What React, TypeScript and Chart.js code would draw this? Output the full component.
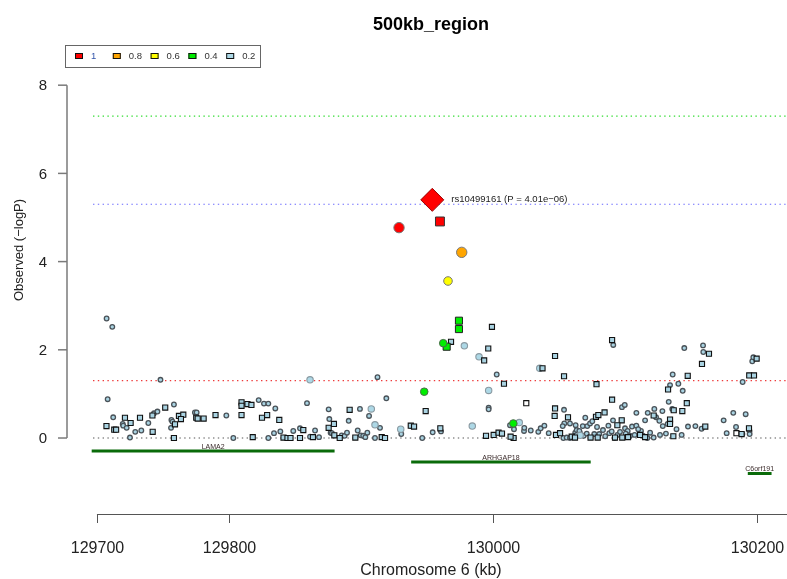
import React, { useEffect, useRef } from 'react';
import { Chart, registerables } from 'chart.js';
Chart.register(...registerables);

const chartTitle = '500kb_region';
const xAxisTitle = 'Chromosome 6 (kb)';
const yAxisTitle = 'Observed (−logP)';
const xTicks = [129700, 129800, 130000, 130200];
const yTicks = [0, 2, 4, 6, 8];

const legendLabels = ['1', '0.8', '0.6', '0.4', '0.2'];
const legendColors = ['#ff0000', '#ffa500', '#ffff00', '#00ee00', '#add8e6'];

const thresholds = [7.3, 5.3, 1.3, 0];
const thresholdColors = ['#33dd33', '#6a6aff', '#ee3b3b', '#555555'];

const geneNames = ['LAMA2', 'ARHGAP18', 'C6orf191'];
const geneStarts = [129696, 129938, 130193];
const geneEnds = [129880, 130074, 130211];
const geneRows = [-0.295, -0.544, -0.805];

const leadSnp: [number, number][] = [[129954, 5.4]];
const leadLabel = 'rs10499161 (P = 4.01e−06)';
const redCircles: [number, number][] = [[129928.8, 4.77]];
const redSquares: [number, number][] = [[129959.8, 4.91]];
const orangeCircles: [number, number][] = [[129976.3, 4.21]];
const yellowCircles: [number, number][] = [[129965.9, 3.56]];
const greenCircles: [number, number][] = [[129962.3, 2.15], [129947.9, 1.05], [130015.4, 0.33]];
const greenSquares: [number, number][] = [[129974.2, 2.66], [129974.2, 2.47], [129964.9, 2.07]];

const blueCircles: [number, number][] = [
  [129707.3, 2.71], [129711.6, 2.52], [129748.1, 1.32], [129708.1, 0.88], [129712.3, 0.47],
  [129719.5, 0.32], [129719.9, 0.28], [129722.5, 0.23], [129725, 0.01], [129729, 0.14],
  [129733.6, 0.17], [129738.9, 0.34], [129743.2, 0.56], [129745.8, 0.6], [129758.3, 0.76],
  [129756.4, 0.41], [129757.2, 0.37], [129756.1, 0.23], [129774.2, 0.58], [129775.5, 0.58],
  [129798, 0.51], [129803.3, 0.0], [129822.5, 0.86], [129826.5, 0.78], [129829.8, 0.78],
  [129829.8, 0.0], [129835.1, 0.67], [129834.1, 0.11], [129838.9, 0.15], [129848.7, 0.16],
  [129853.8, 0.22], [129859.1, 0.79], [129865.2, 0.17], [129868.2, 0.02], [129861.4, 0.03],
  [129875.5, 0.65], [129876, 0.43], [129877, 0.12], [129878, 0.11], [129885.4, 0.06],
  [129887.6, 0.05], [129889.4, 0.12], [129890.7, 0.39], [129897.5, 0.17], [129899.2, 0.66],
  [129899.8, 0.06], [129901.7, 0.05], [129903.3, 0.02], [129904.8, 0.12], [129906.1, 0.5],
  [129912.5, 1.38], [129919.2, 0.9], [129914.4, 0.23], [129910.6, 0.0], [129930.5, 0.09],
  [129937.9, 0.27], [129946.4, 0.0], [129954.3, 0.13], [129960.6, 0.15], [130002.8, 1.44],
  [129996.7, 0.69], [129996.7, 0.65], [130012.9, 0.29], [130015.9, 0.2], [130023.5, 0.16],
  [130023.7, 0.23], [130028.6, 0.17], [130034.3, 0.14], [130036.1, 0.22], [130038.9, 0.28],
  [130042.2, 0.11], [130053.8, 0.64], [130054, 0.33], [130052.8, 0.27], [130058.3, 0.33],
  [130062.6, 0.29], [130062.3, 0.12], [130063.4, 0.18], [130065.9, 0.11], [130053.3, 0.0],
  [130055.8, 0.01], [130058.3, 0.0], [130063.4, 0.07], [130065.4, 0.16], [130068, 0.27],
  [130069.9, 0.46], [130071.4, 0.27], [130073.5, 0.33], [130075.2, 0.38], [130068.7, 0.05],
  [130076.7, 0.09], [130080.5, 0.09], [130087.4, 0.28], [130088.1, 0.11], [130089.9, 0.15],
  [130090.9, 0.4], [130091.1, 2.11], [130092.2, 0.0], [130094.2, 0.07], [130097.7, 0.7],
  [130099.8, 0.75], [130100, 0.22], [130102, 0.16], [130105.3, 0.26], [130108.6, 0.28],
  [130108.6, 0.57], [130103.8, 0.05], [130107.3, 0.07], [130115.2, 0.4], [130117.2, 0.57],
  [130122.2, 0.66], [130123.5, 0.47], [130126, 0.39], [130128.3, 0.61], [130128.6, 0.27],
  [130132.3, 0.32], [130136.1, 1.44], [130135.8, 0.66], [130134.1, 1.2], [130140.4, 1.23],
  [130143.7, 1.07], [130133.1, 0.82], [130144.9, 2.04], [130159.1, 2.1], [130159.3, 1.95],
  [130147.7, 0.26], [130142.9, 0.07], [130158, 0.21], [130153.3, 0.27], [130174.7, 0.4],
  [130182, 0.57], [130191.4, 0.54], [130189.1, 1.27], [130177, 0.11], [130184.1, 0.25],
  [130188.9, 0.09], [130194.3, 0.16], [130194.4, 0.09], [130196.4, 1.74], [130197.2, 1.83],
  [130126.5, 0.07], [130116.9, 0.0], [130121.7, 0.01], [130112.1, 0.16], [130113.6, 0.05],
  [130096.2, 0.14], [130083.3, 0.18], [130078.8, 0.25], [130071, 0.1], [130085, 0.04],
  [130100.5, 0.1], [130110, 0.2], [130119, 0.12], [130131, 0.1], [130139, 0.2]
];

const bigBlueCircles: [number, number][] = [
  [129861.4, 1.32], [129907.8, 0.66], [129910.6, 0.3], [129978.3, 2.09], [129989.4, 1.84],
  [129996.7, 1.08], [130035.4, 1.58], [130019.9, 0.35], [129930.1, 0.2], [129984.3, 0.27],
  [130066, 0.06]
];

const blueSquares: [number, number][] = [
  [129707.2, 0.27], [129713.1, 0.19], [129714.5, 0.19], [129721.2, 0.46], [129725.5, 0.34],
  [129732.6, 0.46], [129742, 0.51], [129742.2, 0.14], [129751.7, 0.69], [129759.1, 0.31],
  [129758.3, 0.0], [129762.1, 0.5], [129765.4, 0.53], [129763.6, 0.43], [129775.2, 0.46],
  [129776.3, 0.44], [129780.8, 0.44], [129789.8, 0.52], [129809.5, 0.81], [129809.5, 0.73],
  [129814, 0.77], [129817, 0.75], [129809.5, 0.52], [129818, 0.02], [129825, 0.46],
  [129828.9, 0.52], [129838.1, 0.41], [129841.3, 0.01], [129844.3, 0.0], [129846.6, 0.0],
  [129853.8, 0.0], [129856.3, 0.18], [129863.6, 0.02], [129875.5, 0.23], [129879.5, 0.32],
  [129879.8, 0.06], [129883.9, 0.0], [129891.4, 0.64], [129895.7, 0.01], [129915.7, 0.02],
  [129918.2, 0.0], [129937.7, 0.28], [129940.2, 0.26], [129949, 0.61], [129960.1, 0.22],
  [129968.2, 2.18], [129993.3, 1.76], [129996.4, 2.03], [129999.2, 2.52], [130008.3, 1.23],
  [129994.7, 0.05], [130000.5, 0.07], [130004.2, 0.12], [130006.8, 0.1], [130015.6, 0.0],
  [130013.3, 0.03], [130037.5, 1.58], [130047, 1.86], [130053.8, 1.4], [130047, 0.67],
  [130046.7, 0.5], [130056.8, 0.47], [130047.7, 0.07], [130050.8, 0.11], [130059.6, 0.03],
  [130062.1, 0.01], [130073.9, 0.01], [130078.4, 1.22], [130078, 0.48], [130079.8, 0.52],
  [130084.5, 0.58], [130079.3, 0.01], [130090.2, 2.22], [130090.2, 0.87], [130097.5, 0.4],
  [130094.2, 0.29], [130092.4, 0.01], [130097.9, 0.01], [130121.7, 0.51], [130134.1, 0.42],
  [130136.9, 0.63], [130134.1, 0.32], [130136.6, 0.04], [130143.4, 0.61], [130147.5, 1.41],
  [130146.8, 0.79], [130158.3, 1.68], [130163.6, 1.91], [130160.8, 0.26], [130193.9, 0.22],
  [130188.3, 0.09], [130194.1, 1.42], [130197.7, 1.42], [130199.7, 1.8], [130132.6, 1.1],
  [130111.4, 0.07], [130115.2, 0.02], [130102.3, 0.02]
];

const whiteSquares: [number, number][] = [[130025.2, 0.79], [130184.4, 0.11]];

const X_MIN = 129677.3;
const X_MAX = 130222.7;
const Y_MIN = -1.723;
const Y_MAX = 8.231;
const LINE_START = 129697;

const FONT = '"Liberation Sans", Arial, sans-serif';

const pts = (a: [number, number][]) => a.map(([x, y]) => ({ x, y }));

export default function App() {
  const ref = useRef<HTMLCanvasElement | null>(null);

  useEffect(() => {
    document.body.style.margin = '0';
    const canvas = ref.current;
    if (!canvas) return;

    const pointSet = (
      data: [number, number][],
      style: string,
      radius: number,
      fill: string,
      border: string,
      bw: number,
      order: number
    ) => ({
      type: 'scatter' as const,
      data: pts(data),
      pointStyle: style,
      pointRadius: radius,
      pointHoverRadius: radius,
      backgroundColor: fill,
      borderColor: border,
      pointBorderWidth: bw,
      borderWidth: bw,
      showLine: false,
      order,
    });

    const lineSets: any[] = [];
    thresholds.forEach((t, i) => {
      lineSets.push({
        type: 'line',
        data: [{ x: LINE_START, y: t }, { x: X_MAX, y: t }],
        borderColor: thresholdColors[i],
        borderWidth: 1.2,
        borderDash: [1.4, 3.4],
        pointRadius: 0,
        showLine: true,
        fill: false,
        clip: false,
        order: 20,
      });
    });
    geneNames.forEach((_, i) => {
      lineSets.push({
        type: 'line',
        data: [{ x: geneStarts[i], y: geneRows[i] }, { x: geneEnds[i], y: geneRows[i] }],
        borderColor: '#0a6b0a',
        borderWidth: 3,
        pointRadius: 0,
        showLine: true,
        fill: false,
        order: 20,
      });
    });

    const datasets: any[] = [
      ...lineSets,
      pointSet(blueCircles, 'circle', 2.3, '#a9d3e2', '#4a5258', 1.3, 10),
      pointSet(bigBlueCircles, 'circle', 3.2, '#add8e6', '#8a9aa2', 1.1, 9),
      pointSet(blueSquares, 'rect', 3.6, '#a9d3e2', '#111111', 1.1, 8),
      pointSet(whiteSquares, 'rect', 3.6, '#ffffff', '#111111', 1.1, 8),
      pointSet(greenCircles, 'circle', 3.8, '#00ee00', '#4a6a4a', 1, 5),
      pointSet(greenSquares, 'rect', 5, '#00ee00', '#222222', 1, 5),
      pointSet(yellowCircles, 'circle', 4.3, '#ffff00', '#777777', 1, 4),
      pointSet(orangeCircles, 'circle', 5.2, '#ffa500', '#777777', 1, 3),
      pointSet(redSquares, 'rect', 6.3, '#ff0000', '#333333', 1, 2),
      pointSet(redCircles, 'circle', 5.2, '#ff0000', '#777777', 1, 2),
      pointSet(leadSnp, 'rectRot', 11.5, '#ff0000', '#990000', 1, 1),
    ];

    const overlay = {
      id: 'overlay',
      afterDraw(chart: any) {
        const { ctx, chartArea } = chart;
        const xs = chart.scales.x;
        const ys = chart.scales.y;
        ctx.save();

        // title
        ctx.fillStyle = '#000';
        ctx.font = `bold 18px ${FONT}`;
        ctx.textAlign = 'center';
        ctx.textBaseline = 'middle';
        ctx.fillText(chartTitle, 431, 25);

        // y axis
        const ax = chartArea.left;
        ctx.strokeStyle = '#7a7a7a';
        ctx.lineWidth = 1.5;
        ctx.beginPath();
        ctx.moveTo(ax, ys.getPixelForValue(yTicks[0]));
        ctx.lineTo(ax, ys.getPixelForValue(yTicks[yTicks.length - 1]));
        ctx.stroke();
        ctx.font = `15px ${FONT}`;
        ctx.fillStyle = '#222';
        ctx.textAlign = 'right';
        yTicks.forEach((t) => {
          const py = ys.getPixelForValue(t);
          ctx.beginPath();
          ctx.moveTo(ax - 9, py);
          ctx.lineTo(ax, py);
          ctx.stroke();
          ctx.fillText(String(t), ax - 20, py + 1);
        });

        // y title
        ctx.save();
        ctx.translate(19, 250);
        ctx.rotate(-Math.PI / 2);
        ctx.textAlign = 'center';
        ctx.font = `13px ${FONT}`;
        ctx.fillStyle = '#222';
        ctx.fillText(yAxisTitle, 0, 0);
        ctx.restore();

        // x axis
        const ay = chartArea.bottom;
        ctx.strokeStyle = '#555';
        ctx.lineWidth = 1;
        ctx.beginPath();
        ctx.moveTo(xs.getPixelForValue(xTicks[0]), ay + 0.5);
        ctx.lineTo(chart.width, ay + 0.5);
        ctx.stroke();
        ctx.font = `16px ${FONT}`;
        ctx.fillStyle = '#222';
        ctx.textAlign = 'center';
        xTicks.forEach((t) => {
          const px = Math.round(xs.getPixelForValue(t)) + 0.5;
          ctx.beginPath();
          ctx.moveTo(px, ay);
          ctx.lineTo(px, ay + 9);
          ctx.stroke();
          ctx.fillText(String(t), px, ay + 35);
        });
        ctx.fillText(xAxisTitle, 431, 571);

        // gene labels
        ctx.font = `7px ${FONT}`;
        ctx.fillStyle = '#3a2a2a';
        geneNames.forEach((g, i) => {
          const cx = xs.getPixelForValue((geneStarts[i] + geneEnds[i]) / 2);
          const cy = ys.getPixelForValue(geneRows[i]);
          ctx.fillText(g, cx, cy - 4);
        });

        // lead snp label
        ctx.font = `9.5px ${FONT}`;
        ctx.fillStyle = '#222';
        ctx.textAlign = 'left';
        ctx.fillText(
          leadLabel,
          xs.getPixelForValue(leadSnp[0][0]) + 19,
          ys.getPixelForValue(leadSnp[0][1])
        );

        // legend
        ctx.strokeStyle = '#666';
        ctx.lineWidth = 1;
        ctx.strokeRect(65.5, 45.5, 195, 22);
        legendLabels.forEach((lab, i) => {
          const cx = 79 + i * 37.8;
          ctx.fillStyle = legendColors[i];
          ctx.fillRect(cx - 4, 53, 8, 6);
          ctx.strokeStyle = '#111';
          ctx.strokeRect(cx - 4 + 0.5, 53 + 0.5, 7, 5);
          ctx.font = `9.5px ${FONT}`;
          ctx.fillStyle = i === 0 ? '#3355aa' : '#333';
          ctx.textAlign = 'left';
          ctx.fillText(lab, cx + 12, 56.5);
        });

        ctx.restore();
      },
    };

    const chart = new Chart(canvas, {
      type: 'scatter',
      data: { datasets },
      options: {
        responsive: false,
        animation: false,
        events: [],
        layout: { autoPadding: false, padding: { left: 67, right: 0, top: 75, bottom: 65 } },
        scales: {
          x: { type: 'linear', min: X_MIN, max: X_MAX, display: false },
          y: { type: 'linear', min: Y_MIN, max: Y_MAX, display: false },
        },
        plugins: {
          legend: { display: false },
          tooltip: { enabled: false },
          title: { display: false },
        },
      },
      plugins: [overlay],
    });
    return () => chart.destroy();
  }, []);

  return (
    <div style={{ width: 787, height: 579, background: '#fff' }}>
      <canvas ref={ref} width={787} height={579} />
    </div>
  );
}
